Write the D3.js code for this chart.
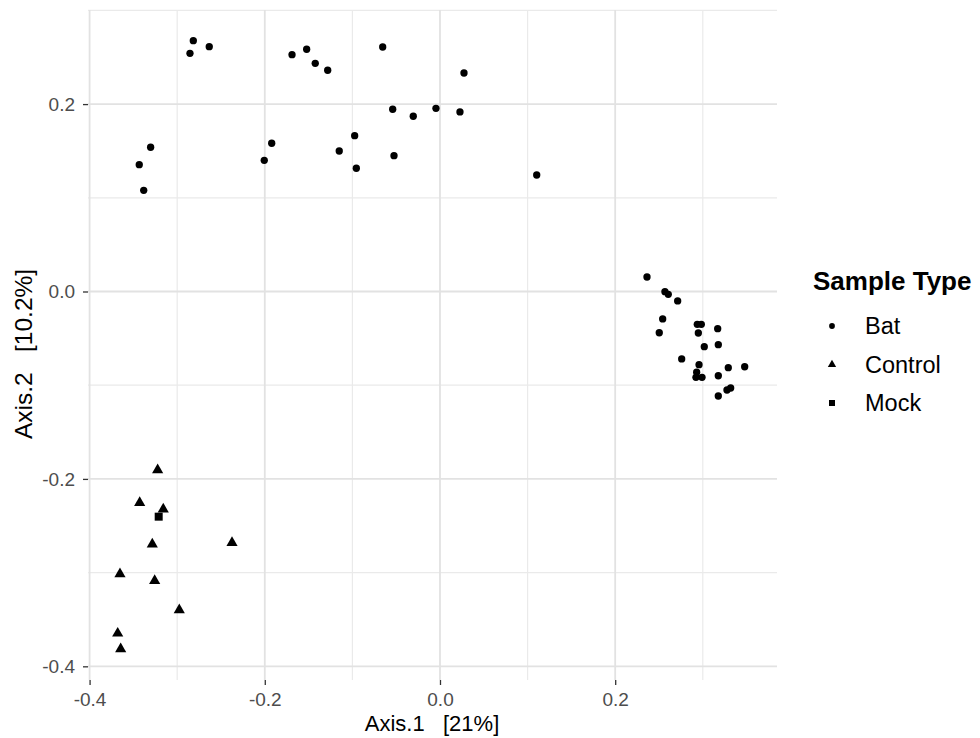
<!DOCTYPE html>
<html>
<head>
<meta charset="utf-8">
<script src="https://cdn.jsdelivr.net/npm/d3@7"></script>
<style>
  body { margin: 0; background: #fff; }
  text { font-family: "Liberation Sans", Arial, Helvetica, sans-serif; }
</style>
</head>
<body>
<div class="chart"></div>
<script>
// sample types shown in the legend
const sampleTypes = ["Bat", "Control", "Mock"];

// ordination coordinates
const batX = [-0.2816, -0.2854, -0.2634, -0.1689, -0.1522, -0.1424, -0.1282, -0.0654, 0.0274,
  -0.3303, -0.3433, -0.3382, -0.1921, -0.2006, -0.0974, -0.1150, -0.0955, -0.0540, -0.0305,
  -0.0046, 0.0228, -0.0525, 0.1104,
  0.2363, 0.2568, 0.2606, 0.2713, 0.2542, 0.2503, 0.2937, 0.2983, 0.2949, 0.3170, 0.3017,
  0.3177, 0.2759, 0.2957, 0.2930, 0.2922, 0.2991, 0.3291, 0.3478, 0.3177, 0.3276, 0.3318, 0.3177];
const batY = [0.2677, 0.2542, 0.2613, 0.2527, 0.2585, 0.2435, 0.2361, 0.2609, 0.2332,
  0.1539, 0.1353, 0.1080, 0.1582, 0.1400, 0.1663, 0.1499, 0.1315, 0.1945, 0.1870,
  0.1955, 0.1916, 0.1449, 0.1243,
  0.0155, -0.0002, -0.0030, -0.0101, -0.0293, -0.0440, -0.0350, -0.0350, -0.0443, -0.0397, -0.0589,
  -0.0568, -0.0720, -0.0781, -0.0862, -0.0916, -0.0916, -0.0813, -0.0803, -0.0899, -0.1051, -0.1030, -0.1115];

const controlX = [-0.3223, -0.3428, -0.3159, -0.3284, -0.2374, -0.3653, -0.3257, -0.2976, -0.3679, -0.3645];
const controlY = [-0.1905, -0.2254, -0.2324, -0.2698, -0.2681, -0.3015, -0.3086, -0.3399, -0.3648, -0.3815];

const mockX = [-0.3211];
const mockY = [-0.2403];

// axis ticks
const xMajorTicks = [-0.4, -0.2, 0.0, 0.2];
const xMinorTicks = [-0.3, -0.1, 0.1, 0.3];
const yMajorTicks = [-0.4, -0.2, 0.0, 0.2];
const yMinorTicks = [-0.3, -0.1, 0.1, 0.3];

const xTitle = "Axis.1   [21%]";
const yTitle = "Axis.2   [10.2%]";
const legendTitle = "Sample Type";

const width = 980, height = 738;
const panel = { left: 88, right: 777, top: 10, bottom: 680 };

const x = d3.scaleLinear().domain([-0.4018, 0.3847]).range([panel.left, panel.right]);
const y = d3.scaleLinear().domain([-0.4146, 0.3004]).range([panel.bottom, panel.top]);

const shapeOf = {
  Bat: d3.symbolCircle,
  Control: d3.symbolTriangle,
  Mock: d3.symbolSquare
};
const plotSize = { Bat: 42, Control: 54, Mock: 64 };
const keySize = { Bat: 26, Control: 30, Mock: 36 };

const svg = d3.select(".chart").append("svg")
  .attr("width", width)
  .attr("height", height);

// grid lines
const grid = svg.append("g");
grid.selectAll(".vminor").data(xMinorTicks).enter().append("line")
  .attr("x1", d => x(d)).attr("x2", d => x(d))
  .attr("y1", panel.top).attr("y2", panel.bottom)
  .attr("stroke", "#EAEAEA").attr("stroke-width", 1.2);
grid.selectAll(".hminor").data(yMinorTicks).enter().append("line")
  .attr("x1", panel.left).attr("x2", panel.right)
  .attr("y1", d => y(d)).attr("y2", d => y(d))
  .attr("stroke", "#EAEAEA").attr("stroke-width", 1.2);
grid.selectAll(".vmajor").data(xMajorTicks).enter().append("line")
  .attr("x1", d => x(d)).attr("x2", d => x(d))
  .attr("y1", panel.top).attr("y2", panel.bottom)
  .attr("stroke", "#E2E2E2").attr("stroke-width", 1.8);
grid.selectAll(".hmajor").data(yMajorTicks).enter().append("line")
  .attr("x1", panel.left).attr("x2", panel.right)
  .attr("y1", d => y(d)).attr("y2", d => y(d))
  .attr("stroke", "#E2E2E2").attr("stroke-width", 1.8);

// axes
const fmt = d => Math.abs(d) < 1e-9 ? "0.0" : d.toFixed(1);

const xAxis = svg.append("g")
  .attr("transform", `translate(0,${panel.bottom})`)
  .call(d3.axisBottom(x).tickValues(xMajorTicks).tickFormat(fmt).tickSize(5).tickPadding(8));
const yAxis = svg.append("g")
  .attr("transform", `translate(${panel.left},0)`)
  .call(d3.axisLeft(y).tickValues(yMajorTicks).tickFormat(fmt).tickSize(5).tickPadding(8));

[xAxis, yAxis].forEach(ax => {
  ax.select(".domain").remove();
  ax.selectAll(".tick line").attr("stroke", "#333333").attr("stroke-width", 1.3);
  ax.selectAll(".tick text")
    .attr("fill", "#4D4D4D")
    .style("font-size", "19px")
    .style("font-family", "'Liberation Sans', Arial, sans-serif");
});

// axis titles
svg.append("text")
  .attr("x", 432)
  .attr("y", 731)
  .attr("text-anchor", "middle")
  .style("font-size", "22px")
  .style("white-space", "pre")
  .attr("fill", "#000")
  .text(xTitle);

svg.append("text")
  .attr("transform", "translate(32,354) rotate(-90)")
  .attr("text-anchor", "middle")
  .style("font-size", "24.5px")
  .style("white-space", "pre")
  .attr("fill", "#000")
  .text(yTitle);

// points
const series = [
  { type: "Bat", xs: batX, ys: batY },
  { type: "Control", xs: controlX, ys: controlY },
  { type: "Mock", xs: mockX, ys: mockY }
];
const points = svg.append("g");
series.forEach(s => {
  const sym = d3.symbol().type(shapeOf[s.type]).size(plotSize[s.type]);
  points.selectAll(null).data(s.xs.map((v, i) => [v, s.ys[i]])).enter().append("path")
    .attr("d", sym)
    .attr("transform", d => `translate(${x(d[0])},${y(d[1])})`)
    .attr("fill", "#000");
});

// legend
const legend = svg.append("g");
legend.append("text")
  .attr("x", 813)
  .attr("y", 290)
  .style("font-size", "26px")
  .style("font-weight", "bold")
  .attr("fill", "#000")
  .text(legendTitle);

const keys = legend.selectAll(".key").data(sampleTypes).enter().append("g")
  .attr("transform", (d, i) => `translate(832,${326 + i * 38.5})`);
keys.append("path")
  .attr("d", d => d3.symbol().type(shapeOf[d]).size(keySize[d])())
  .attr("fill", "#000");
keys.append("text")
  .attr("x", 33)
  .attr("y", 8)
  .style("font-size", "23.5px")
  .attr("fill", "#000")
  .text(d => d);
</script>
</body>
</html>
